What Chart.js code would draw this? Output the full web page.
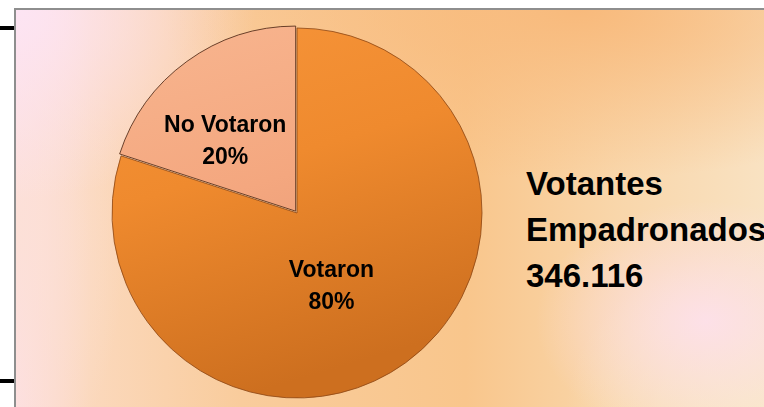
<!DOCTYPE html>
<html>
<head>
<meta charset="utf-8">
<script src="https://cdn.jsdelivr.net/npm/chart.js@4.4.1/dist/chart.umd.min.js"></script>
<style>
  html, body { margin: 0; padding: 0; background: #fff; }
  #wrap { position: relative; width: 764px; height: 407px; overflow: hidden; background: #fff; }
  #frame {
    position: absolute; left: 14px; top: 8px; width: 750px; height: 399px;
    border-top: 2px solid #8e8e8e; border-left: 2px solid #8e8e8e;
    background:
      radial-gradient(ellipse 240px 190px at 0% 0%, rgba(253,228,243,1) 0%, rgba(253,228,243,0) 100%),
      radial-gradient(ellipse 110px 260px at 0% 55%, rgba(252,224,214,0.9) 0%, rgba(252,224,214,0) 100%),
      radial-gradient(ellipse 170px 120px at 92% 78%, rgba(253,224,234,0.95) 0%, rgba(253,224,234,0) 100%),
      radial-gradient(ellipse 420px 170px at 75% 0%, rgba(248,186,124,1) 0%, rgba(248,186,124,0) 100%),
      radial-gradient(ellipse 200px 160px at 100% 100%, rgba(249,232,198,1) 0%, rgba(249,232,198,0) 100%),
      linear-gradient(to right, #fde0e4 0%, #fbd8bc 10%, #f9cc9c 30%, #f9c68c 60%, #f9d6aa 80%, #f9e2c2 100%);
  }
  .tick { position: absolute; left: 0; width: 14px; height: 4px; background: #000; }
  #side {
    position: absolute; left: 526px; top: 161px;
    font-family: "Liberation Sans", Arial, sans-serif; font-weight: bold;
    font-size: 33px; line-height: 46px; color: #000; white-space: nowrap;
  }
  #c { position: absolute; left: 0; top: 0; }
</style>
</head>
<body>
<div id="wrap">
  <div id="frame"></div>
  <div class="tick" style="top:26px"></div>
  <div class="tick" style="top:379px"></div>
  <div id="side">Votantes<br>Empadronados<br>346.116</div>
  <canvas id="c" width="764" height="407"></canvas>
</div>
<script>
// Votantes que votaron / no votaron
const categorias = ['Votaron', 'No Votaron'];
const porcentajes = [80, 20];

function sliceColor(ctx) {
  const chart = ctx.chart;
  const area = chart.chartArea;
  const fallback = ['#ec8529', '#f3a57c'][ctx.dataIndex];
  if (!area) return fallback;
  const g = chart.ctx.createLinearGradient(area.left, area.top, area.left + area.width * 0.3, area.bottom);
  if (ctx.dataIndex === 0) {
    g.addColorStop(0, '#f7953a');
    g.addColorStop(0.45, '#ef8a2e');
    g.addColorStop(1, '#cd6f1f');
  } else {
    g.addColorStop(0, '#f8b690');
    g.addColorStop(0.5, '#f4a77f');
    g.addColorStop(1, '#e29470');
  }
  return g;
}

const etiquetas = {
  id: 'etiquetas',
  afterDatasetsDraw(chart, args, opts) {
    const ctx = chart.ctx;
    const meta = chart.getDatasetMeta(0);
    ctx.save();
    ctx.fillStyle = '#000';
    ctx.font = 'bold 23px "Liberation Sans", Arial, sans-serif';
    ctx.textAlign = 'center';
    ctx.textBaseline = 'middle';
    meta.data.forEach((arc, i) => {
      const p = arc.getProps(['x', 'y', 'startAngle', 'endAngle', 'outerRadius']);
      const place = opts.place[i];
      const mid = (p.startAngle + p.endAngle) / 2;
      const off = chart.data.datasets[0].offset[i] || 0;
      const a = mid + place.turn * Math.PI / 180;
      const r = p.outerRadius * place.frac;
      const cx = p.x + Math.cos(mid) * off + Math.cos(a) * r;
      const cy = p.y + Math.sin(mid) * off + Math.sin(a) * r;
      ctx.fillText(categorias[i], cx, cy - 16);
      ctx.fillText(porcentajes[i] + '%', cx, cy + 16);
    });
    ctx.restore();
  }
};

new Chart(document.getElementById('c'), {
  type: 'pie',
  data: {
    labels: categorias,
    datasets: [{
      data: porcentajes,
      backgroundColor: sliceColor,
      borderColor: ['rgba(140,70,20,0.8)', 'rgba(90,50,30,0.9)'],
      borderWidth: 1,
      offset: [0, 9]
    }]
  },
  options: {
    responsive: false,
    animation: false,
    events: [],
    layout: { padding: { left: 107, right: 277, top: 23, bottom: 4 } },
    plugins: {
      legend: { display: false },
      tooltip: { enabled: false },
      etiquetas: { place: [{ frac: 0.44, turn: 11 }, { frac: 0.5, turn: -10 }] }
    }
  },
  plugins: [etiquetas]
});
</script>
</body>
</html>
